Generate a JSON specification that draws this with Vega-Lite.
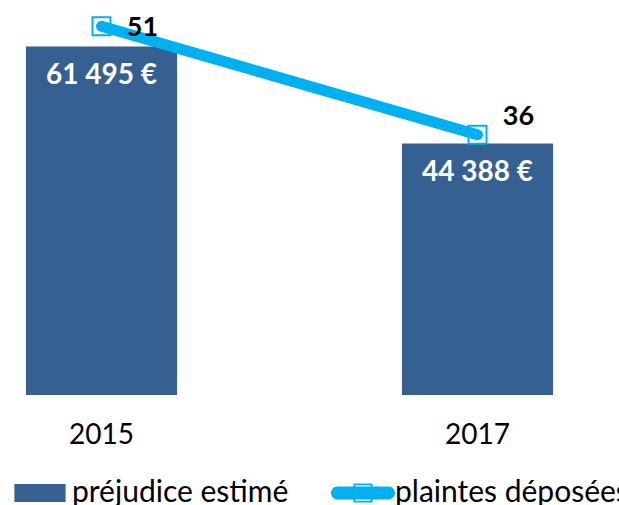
{
  "$schema": "https://vega.github.io/schema/vega-lite/v6.json",
  "width": 579,
  "height": 395,
  "autosize": {"type": "none"},
  "padding": {"left": 0, "top": 0, "right": 40, "bottom": 110},
  "background": "white",
  "config": {
    "view": {"stroke": null},
    "font": "Lato",
    "locale": {"number": {"decimal": ",", "thousands": " ", "grouping": [3], "currency": ["", " €"]}}
  },
  "data": {"values": [
    {"annee": "2015", "prejudice": 61495, "plaintes": 51},
    {"annee": "2017", "prejudice": 44388, "plaintes": 36}
  ]},
  "encoding": {
    "x": {
      "field": "annee", "type": "nominal",
      "scale": {"paddingInner": 0.598, "paddingOuter": 0.069},
      "axis": {"title": null, "domain": false, "ticks": false, "tickSize": 0, "labelAngle": 0, "labelFont": "Lato", "labelFontSize": 28, "labelColor": "#000000", "labelBaseline": "middle", "labelPadding": 40, "grid": false}
    }
  },
  "layer": [
    {
      "encoding": {
        "y": {"field": "prejudice", "type": "quantitative", "scale": {"domain": [0, 69700], "nice": false, "zero": true}, "axis": null}
      },
      "layer": [
        {
          "mark": {"type": "bar"},
          "encoding": {
            "color": {"datum": "préjudice estimé", "type": "nominal",
              "scale": {"domain": ["préjudice estimé", "plaintes déposées"], "range": ["#366092", "#00B0F0"]},
              "legend": {
                "orient": "none", "legendX": 8, "legendY": 461, "direction": "horizontal", "columns": 2,
                "title": null, "labelFont": "Lato", "labelFontSize": 30, "labelColor": "#000000",
                "labelOffset": 0, "columnPadding": 42, "symbolSize": 4096, "symbolStrokeWidth": 0, "symbolOpacity": 1,
                "labelLimit": 400,
                "encode": {"symbols": {"update": {
                  "shape": {"signal": "datum.value === 'préjudice estimé' ? 'M-0.8,-0.28H0.8V0.28H-0.8Z' : 'M-0.8,-0.2H0.8A0.2,0.2 0 0 1 0.8,0.2H-0.8A0.2,0.2 0 0 1 -0.8,-0.2Z M-0.3,-0.3H0.3V0.3H-0.3Z M-0.24,-0.24V0.24H0.24V-0.24Z'"},
                  "fill": {"scale": "color", "field": "value"},
                  "stroke": {"value": "transparent"},
                  "strokeWidth": {"value": 0},
                  "opacity": {"value": 1},
                  "size": {"value": 4096}
                }}}
              }
            }
          }
        },
        {
          "mark": {"type": "text", "color": "white", "fontWeight": "bold", "fontSize": 28, "font": "Lato", "baseline": "middle", "align": "center", "dy": 30},
          "encoding": {"text": {"field": "prejudice", "type": "quantitative", "format": "$,.0f"}}
        }
      ]
    },
    {
      "encoding": {
        "y": {"field": "plaintes", "type": "quantitative", "scale": {"domain": [0, 54.63], "nice": false, "zero": true}, "axis": null}
      },
      "layer": [
        {
          "mark": {"type": "point", "shape": "square", "filled": true, "fill": "white", "stroke": "#00B0F0", "strokeWidth": 2, "size": 324, "opacity": 1}
        },
        {
          "mark": {"type": "line", "strokeWidth": 11, "strokeCap": "round"},
          "encoding": {"color": {"datum": "plaintes déposées", "type": "nominal"}}
        },
        {
          "transform": [{"filter": "datum.annee === '2015'"}],
          "mark": {"type": "text", "fontWeight": "bold", "fontSize": 27, "font": "Lato", "color": "#000000", "align": "center", "baseline": "middle", "dx": 41, "dy": 1.5},
          "encoding": {"text": {"field": "plaintes", "type": "quantitative"}}
        },
        {
          "transform": [{"filter": "datum.annee === '2017'"}],
          "mark": {"type": "text", "fontWeight": "bold", "fontSize": 27, "font": "Lato", "color": "#000000", "align": "center", "baseline": "middle", "dx": 41, "dy": -17.5},
          "encoding": {"text": {"field": "plaintes", "type": "quantitative"}}
        }
      ]
    }
  ],
  "resolve": {"scale": {"y": "independent"}}
}
